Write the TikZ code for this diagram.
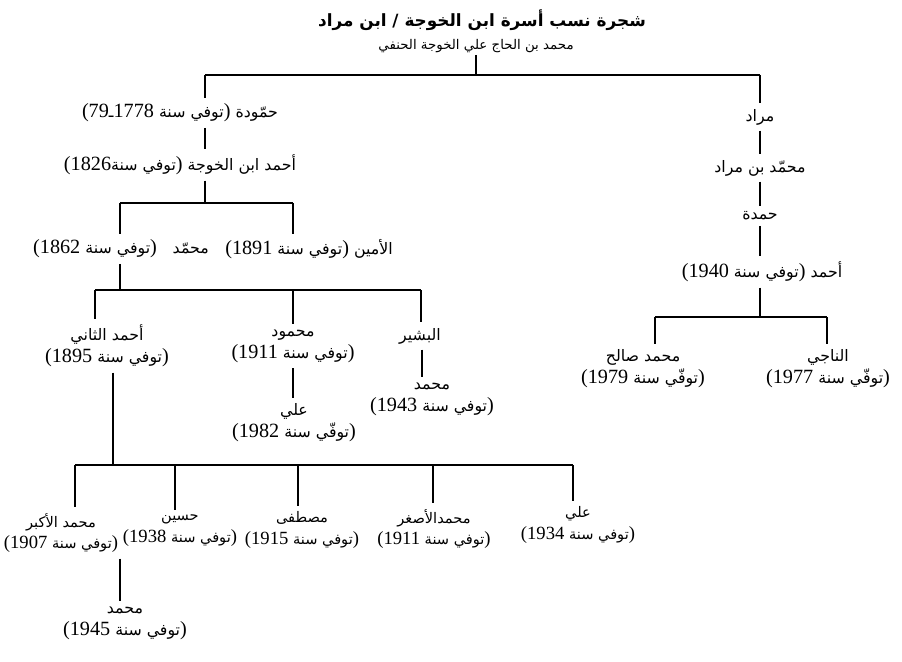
\documentclass[tikz,border=0pt]{standalone}
\usepackage{fontspec}
\TeXXeTstate=1
\newfontfamily\arabicfont[Script=Arabic]{DejaVu Sans}
\newfontfamily\numfont{Liberation Serif}
\newcommand{\numsize}{11.5}
\newcommand{\rl}[1]{\beginR #1\endR}
\newcommand{\yr}[1]{\beginL{\numfont\fontsize{\numsize}{12.5}\selectfont #1}\endL}
\newcommand{\po}{\beginL{\numfont\fontsize{\numsize}{12.5}\selectfont)}\endL}
\newcommand{\pc}{\beginL{\numfont\fontsize{\numsize}{12.5}\selectfont(}\endL}
\begin{document}
\begin{tikzpicture}[x=0.02cm, y=-0.02cm,
  person/.style={align=center, inner sep=3pt, font=\arabicfont\fontsize{9}{12.5}\selectfont},
  kid/.style={person, inner xsep=1pt, font=\arabicfont\fontsize{8.3}{12.5}\selectfont\def\numsize{10.6}},
  heading/.style={inner sep=1pt, font=\arabicfont\fontsize{7.6}{12}\selectfont},
  link/.style={line width=1.1pt}]
\useasboundingbox (0,0) rectangle (902,662);

\node[heading, font=\arabicfont\bfseries\fontsize{9.6}{14}\selectfont] (title) at (482,20) {\rl{شجرة نسب أسرة ابن الخوجة / ابن مراد}};
\node[heading] (sub) at (476,46) {\rl{محمد بن الحاج علي الخوجة الحنفي}};

% left branch
\node[person] (hamm) at (180,113) {\rl{حمّودة \po توفي سنة \yr{1778}ـ\yr{79}\pc}};
\node[person] (ahmad) at (180,165) {\rl{أحمد ابن الخوجة \po توفي سنة\yr{1826}\pc}};
\node[person] (muh1) at (121,249) {\rl{محمّد\quad\po توفي سنة \yr{1862}\pc}};
\node[person] (amin) at (309,249) {\rl{الأمين \po توفي سنة \yr{1891}\pc}};
\node[person] (ahmad2) at (107,346) {\rl{أحمد الثاني}\\\rl{\po توفي سنة \yr{1895}\pc}};
\node[person] (mahmud) at (293,346) {\rl{محمود}\\\rl{\po توفي سنة \yr{1911}\pc}};
\node[person] (bashir) at (420,336) {\rl{البشير}};
\node[person] (muh3) at (432,399) {\rl{محمد}\\\rl{\po توفي سنة \yr{1943}\pc}};
\node[person] (ali1) at (294,423) {\rl{علي}\\\rl{\po توفّي سنة \yr{1982}\pc}};
\node[kid] (akbar) at (61,533) {\rl{محمد الأكبر}\\\rl{\po توفي سنة \yr{1907}\pc}};
\node[kid] (husayn) at (180,531) {\rl{حسين}\\\rl{\po توفي سنة \yr{1938}\pc}};
\node[kid] (mustafa) at (302,530) {\rl{مصطفى}\\\rl{\po توفي سنة \yr{1915}\pc}};
\node[kid] (asghar) at (434,529) {\rl{محمدالأصغر}\\\rl{\po توفي سنة \yr{1911}\pc}};
\node[kid] (ali2) at (578,525) {\rl{علي}\\\rl{\po توفي سنة \yr{1934}\pc}};
\node[person] (muh4) at (125,623) {\rl{محمد}\\\rl{\po توفي سنة \yr{1945}\pc}};

% right branch
\node[person] (murad) at (760,117) {\rl{مراد}};
\node[person] (muhbm) at (760,168) {\rl{محمّد بن مراد}};
\node[person] (hamda) at (760,216) {\rl{حمدة}};
\node[person] (ahmad3) at (762,272) {\rl{أحمد \po توفي سنة \yr{1940}\pc}};
\node[person] (salih) at (643,369) {\rl{محمد صالح}\\\rl{\po توفّي سنة \yr{1979}\pc}};
\node[person] (naji) at (828,369) {\rl{الناجي}\\\rl{\po توفّي سنة \yr{1977}\pc}};

% connectors
\coordinate (j0) at (476,75);
\coordinate (jl) at (205,75);
\coordinate (jr) at (760,75);
\draw[link] (sub) -- (j0);
\draw[link] (jl) -- (jr);
\draw[link] (jl) -- (jl |- hamm.north);
\draw[link] (jl |- hamm.south) -- (jl |- ahmad.north);
\draw[link] (jl |- ahmad.south) -- (205,203);
\draw[link] (120,203) -- (293,203);
\draw[link] (120,203) -- (120,203 |- muh1.north);
\draw[link] (293,203) -- (293,203 |- amin.north);
\draw[link] (120,203 |- muh1.south) -- (120,290);
\draw[link] (95,290) -- (421,290);
\foreach \who/\x in {ahmad2/95, mahmud/293, bashir/421}
  \draw[link] (\x,290) -- (\x,290 |- \who.north);
\draw[link] (422,0 |- bashir.south) -- (422,0 |- muh3.north);
\draw[link] (293,0 |- mahmud.south) -- (293,0 |- ali1.north);
\draw[link] (113,0 |- ahmad2.south) -- (113,465);
\draw[link] (75,465) -- (573,465);
\foreach \who/\x in {akbar/75, husayn/175, mustafa/298, asghar/433, ali2/573}
  \draw[link] (\x,465) -- (\x,465 |- \who.north);
\draw[link] (120,0 |- akbar.south) -- (120,0 |- muh4.north);

\draw[link] (jr) -- (murad);
\draw[link] (murad) -- (muhbm);
\draw[link] (muhbm) -- (hamda);
\draw[link] (hamda) -- (760,0 |- ahmad3.north);
\draw[link] (760,0 |- ahmad3.south) -- (760,317);
\draw[link] (655,317) -- (827,317);
\draw[link] (655,317) -- (655,317 |- salih.north);
\draw[link] (827,317) -- (827,317 |- naji.north);
\end{tikzpicture}
\end{document}
